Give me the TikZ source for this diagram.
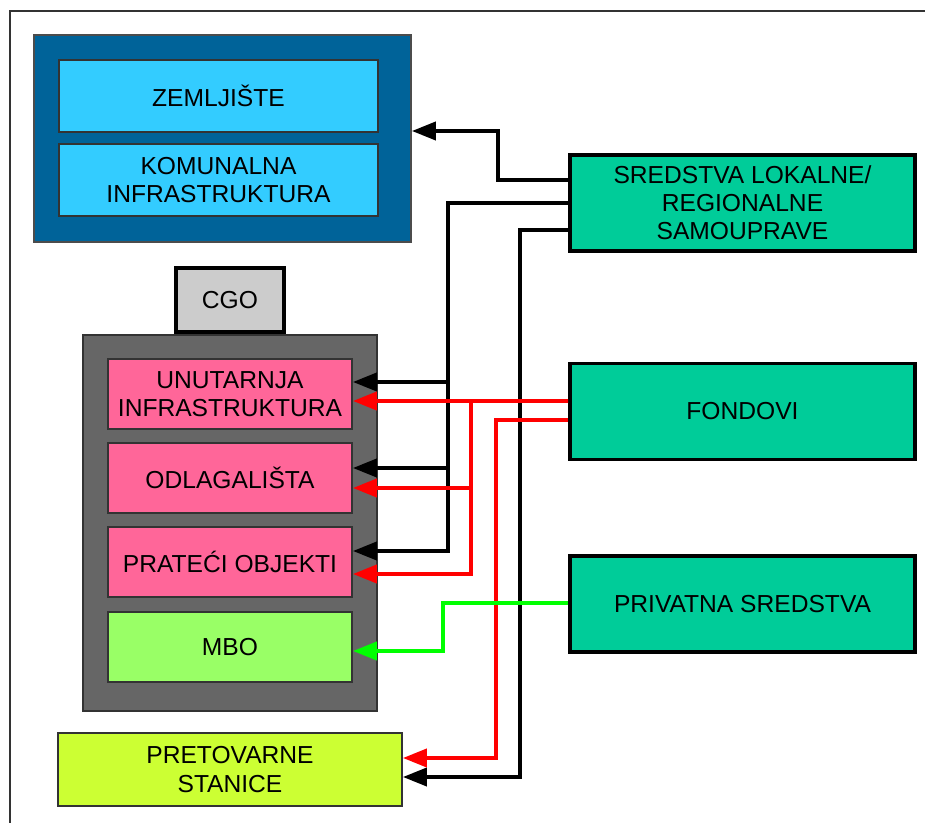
\documentclass[tikz,border=0pt]{standalone}
\usepackage{fontspec}
\setmainfont{Liberation Sans}
\usetikzlibrary{arrows.meta}

\definecolor{tamnoplava}{RGB}{0,99,153}
\definecolor{svijetloplava}{RGB}{51,204,255}
\definecolor{roza}{RGB}{255,102,153}
\definecolor{svijetlozelena}{RGB}{153,255,102}
\definecolor{zutozelena}{RGB}{204,255,51}
\definecolor{tirkiz}{RGB}{0,204,153}
\definecolor{sivo}{RGB}{102,102,102}

\begin{document}
\begin{tikzpicture}[
        font=\fontsize{14}{16}\selectfont,
        kutija/.style={draw=black!80, line width=1pt, align=center, inner sep=0pt},
        izvor/.style={kutija, draw=black, line width=2.2pt, fill=tirkiz, minimum width=6.9cm, minimum height=1.92cm},
        dio/.style={kutija, fill=roza, minimum width=4.88cm, minimum height=1.4cm},
        plavo/.style={kutija, fill=svijetloplava, minimum width=6.38cm, minimum height=1.44cm},
        veza/.style={line width=2.2pt, -{Triangle[length=0.48cm,width=0.36cm]}}
    ]

            \useasboundingbox (0,0) rectangle (18.5,-16.46);
            \draw[black!80, line width=1.2pt] (0.2,-16.46) -- (0.2,-0.22) -- (18.5,-0.22);

            \node[kutija, fill=tamnoplava, draw=black!70, minimum width=7.54cm, minimum height=4.14cm] (zemljiste) at (4.45,-2.77) {};
            \node[plavo] (zem) at (4.37,-1.92) {ZEMLJIŠTE};
            \node[plavo] (kom) at (4.37,-3.60) {KOMUNALNA\\INFRASTRUKTURA};

            \node[kutija, draw=black, line width=2.2pt, fill=black!20, minimum width=2.16cm, minimum height=1.28cm] (cgo) at (4.60,-6.00) {CGO};
            \node[kutija, fill=sivo, minimum width=5.88cm, minimum height=7.52cm] (cgokutija) at (4.60,-10.46) {};

            \node[dio] (unutarnja) at (4.60,-7.88) {UNUTARNJA\\INFRASTRUKTURA};
            \node[dio] (odlagalista) at (4.60,-9.56) {ODLAGALIŠTA};
            \node[dio] (prateci) at (4.60,-11.24) {PRATEĆI OBJEKTI};
            \node[dio, fill=svijetlozelena] (mbo) at (4.60,-12.94) {MBO};

            \node[kutija, fill=zutozelena, minimum width=6.88cm, minimum height=1.46cm] (pretovarne) at (4.60,-15.39) {PRETOVARNE\\STANICE};

            \node[izvor] (sredstva) at (14.85,-4.06) {SREDSTVA LOKALNE/\\REGIONALNE\\SAMOUPRAVE};
            \node[izvor] (fondovi) at (14.85,-8.23) {FONDOVI};
            \node[izvor] (privatna) at (14.85,-12.08) {PRIVATNA SREDSTVA};

            \draw[veza] ([yshift=.46cm]sredstva.west) -- ++(-1.4,0) |- ([yshift=.15cm]zemljiste.east);
            \foreach \cilj/\pomak in {unutarnja/.24, odlagalista/.20, prateci/.22} {
                \draw[veza] (sredstva.west) -- ++(-2.4,0) |- ([yshift=\pomak cm]\cilj.east);
            }
            \draw[veza] ([yshift=-.54cm]sredstva.west) -- ++(-0.96,0) |- ([yshift=-.15cm]pretovarne.east);

            \draw[veza, red] ([yshift=.21cm]fondovi.west) -- ([yshift=-.14cm]unutarnja.east);
            \foreach \cilj/\pomak in {odlagalista/-.20, prateci/-.24} {
                \draw[veza, red] ([yshift=.21cm]fondovi.west) -- ++(-1.94,0) |- ([yshift=\pomak cm]\cilj.east);
            }
            \draw[veza, red] ([yshift=-.17cm]fondovi.west) -- ++(-1.44,0) |- ([yshift=.23cm]pretovarne.east);

            \draw[veza, green] ([yshift=.02cm]privatna.west) -- ++(-2.5,0) |- ([yshift=-.08cm]mbo.east);
        \end{tikzpicture}
\end{document}
